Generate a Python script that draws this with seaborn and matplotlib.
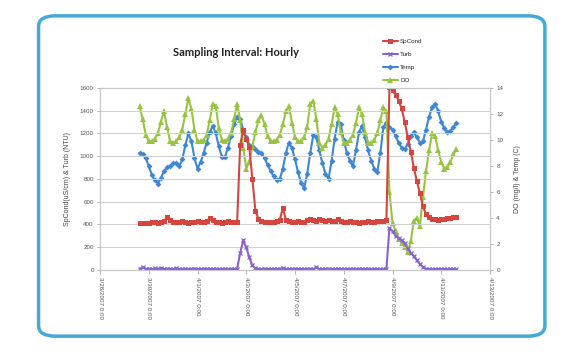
import matplotlib
matplotlib.use("Agg")
import matplotlib.pyplot as plt
from matplotlib.patches import FancyBboxPatch
import pandas as pd
import seaborn as sns
import numpy as np

start = '2007-03-29 15:00'

spcond = [410, 412, 415, 410, 418, 420, 415, 420, 430, 465, 440, 425, 420, 425, 430, 420,
          415, 420, 425, 430, 420, 425, 430, 455, 440, 425, 420, 415, 420, 430, 425, 420,
          425, 1100, 1230, 1150, 1080, 800, 520, 450,
          430, 425, 420, 425, 420, 430, 440, 545, 440, 430, 420, 425, 430, 420, 425, 440,
          445, 440, 430, 450, 440, 430, 440, 435, 430, 445, 430, 425, 420, 430, 425, 420,
          415, 420, 425, 430, 420, 425, 430, 435, 430, 440,
          1610, 1580, 1540, 1490, 1420, 1300, 1170, 1040, 900, 780, 675, 560, 490, 465, 450,
          445, 440, 445, 450, 455, 460, 465, 470]

turb = [8, 25, 10, 12, 6, 15, 9, 20, 7, 12, 10, 8, 14, 6, 9, 11,
        7, 10, 13, 8, 6, 12, 9, 10, 7, 11, 8, 9, 12, 6, 10, 9,
        12, 150, 260, 200, 110, 40, 15, 10,
        8, 12, 9, 7, 10, 11, 8, 20, 9, 7, 10, 12, 8, 9, 6, 11,
        10, 8, 22, 9, 7, 10, 12, 8, 9, 11, 7, 10, 8, 9, 12, 6,
        10, 9, 8, 11, 7, 10, 9, 8, 10, 12,
        370, 340, 300, 280, 260, 235, 190, 150, 120, 85, 50, 25, 10, 5, 5,
        5, 6, 5, 5, 6, 5, 5, 6]

temp = [9.0, 8.9, 8.6, 8.0, 7.3, 6.9, 6.65, 7.1, 7.6, 7.9, 8.0, 8.2, 8.2, 8.0, 8.5, 9.6,
        10.5, 9.9, 8.6, 7.8, 8.3, 9.0, 9.8, 10.6, 11.1, 10.5, 9.5, 8.7, 8.7, 9.4, 10.3, 11.2,
        11.8, 11.6, 10.8, 10.2, 9.6, 9.5, 9.3, 9.1, 9.0, 8.6, 8.1, 7.6, 7.2, 6.9, 7.0, 7.8,
        9.0, 9.8, 9.4, 8.5, 7.5, 6.7, 6.3, 7.4, 9.0, 10.4, 10.2, 9.2, 8.2, 7.4, 7.0, 8.4,
        10.1, 11.4, 11.2, 10.0, 9.0, 8.4, 8.0, 9.2, 10.6, 11.1, 10.2, 9.2, 8.4, 7.8, 7.5, 9.0,
        11.0, 11.3, 11.0, 10.8, 10.3, 9.8, 9.4, 9.3, 9.7, 10.3, 10.6, 10.2, 9.8, 9.9, 10.8, 11.8,
        12.5, 12.8, 12.2, 11.4, 10.9, 10.6, 10.7, 11.0, 11.3]

do = [12.6, 11.6, 10.4, 9.9, 9.9, 10.1, 10.5, 11.4, 12.2, 11.0, 9.9, 9.8, 9.9, 10.2, 10.8, 12.0,
      13.2, 12.4, 10.8, 9.9, 9.9, 10.0, 10.4, 11.5, 12.8, 12.6, 10.9, 10.0, 9.9, 10.1, 10.5, 11.6,
      12.8, 11.5, 9.4, 7.8, 8.3, 9.5, 10.6, 11.5, 11.9, 11.2, 10.3, 9.9, 9.9, 10.0, 10.4, 11.2,
      12.2, 12.6, 11.3, 10.2, 9.9, 9.9, 10.2, 11.0, 12.8, 13.0, 11.6, 9.8, 9.4, 9.6, 10.1, 11.2,
      12.5, 12.0, 10.6, 9.8, 9.8, 10.0, 10.4, 11.3, 12.5, 12.0, 10.6, 9.8, 9.8, 10.0, 10.5, 11.5,
      12.5, 12.2, 6.0, 3.6, 3.0, 2.4, 2.1, 1.8, 1.4, 2.2, 3.8, 4.0, 3.4, 5.6, 7.6, 9.2,
      10.5, 10.3, 9.2, 8.3, 7.8, 7.9, 8.3, 8.9, 9.3]

tick_dates = ['2007-03-28', '2007-03-30', '2007-04-01', '2007-04-03', '2007-04-05',
              '2007-04-07', '2007-04-09', '2007-04-11', '2007-04-13']
tick_labels = ['3/28/2007 0:00', '3/30/2007 0:00', '4/1/2007 0:00', '4/3/2007 0:00',
               '4/5/2007 0:00', '4/7/2007 0:00', '4/9/2007 0:00', '4/11/2007 0:00',
               '4/13/2007 0:00']

times = pd.date_range(start, periods=len(do), freq='3h')
df = pd.DataFrame({'time': times, 'SpCond': spcond, 'Turb': turb, 'Temp': temp, 'DO': do})

sns.set_style('white')
plt.rcParams['font.family'] = ['Liberation Sans', 'DejaVu Sans']

fig = plt.figure(figsize=(5.67, 3.52), dpi=100)
fig.patch.set_facecolor('white')

# rounded frame around the chart
frame = FancyBboxPatch((0.068, 0.045), 0.893, 0.91, boxstyle='round,pad=0,rounding_size=0.03',
                       transform=fig.transFigure, facecolor='white', edgecolor='#45a9d8',
                       linewidth=2.5, zorder=-5)
fig.patches.append(frame)

ax = fig.add_axes([0.1764, 0.233, 0.6878, 0.517])
ax2 = ax.twinx()

c_red = '#d6453d'
c_pur = '#8a62cf'
c_blu = '#3e87d4'
c_grn = '#98c442'

sns.lineplot(data=df, x='time', y='SpCond', ax=ax, color=c_red, marker='s', markersize=3.6,
             markeredgewidth=0, linewidth=1.5, label='SpCond', legend=False)
sns.lineplot(data=df, x='time', y='Turb', ax=ax, color=c_pur, marker='x', markersize=3.5,
             markeredgewidth=0.9, markeredgecolor=c_pur, linewidth=1.5, label='Turb',
             legend=False)
sns.lineplot(data=df, x='time', y='Temp', ax=ax2, color=c_blu, marker='D', markersize=3,
             markeredgewidth=0, linewidth=1.5, label='Temp', legend=False)
sns.lineplot(data=df, x='time', y='DO', ax=ax2, color=c_grn, marker='^', markersize=3.8,
             markeredgewidth=0, linewidth=1.5, label='DO', legend=False)
ax.set_zorder(ax2.get_zorder() + 1)
ax.patch.set_visible(False)
ax2.patch.set_visible(False)

ax.set_ylim(0, 1600)
ax.set_yticks(range(0, 1601, 200))
ax2.set_ylim(0, 14)
ax2.set_yticks(range(0, 15, 2))
ax.set_xlim(pd.Timestamp(tick_dates[0]), pd.Timestamp(tick_dates[-1]))
ax.set_xticks(pd.to_datetime(tick_dates))
ax.set_xticklabels(tick_labels, rotation=270, fontsize=4.3, color='#555555')

ax.grid(axis='y', color='#d0d0d0', linewidth=0.7)
ax.set_axisbelow(True)
for a in (ax, ax2):
    for s in a.spines.values():
        s.set_color('#c8c8c8')
        s.set_linewidth(0.8)
    a.tick_params(axis='both', labelsize=4.5, labelcolor='#555555', length=2.5,
                  color='#aaaaaa', width=0.6, pad=2)
ax.tick_params(axis='x', direction='out', bottom=True, length=3)
ax.tick_params(axis='y', left=True)
ax2.tick_params(axis='y', right=True)

ax.set_xlabel('')
ax.set_ylabel('SpCond(uS/cm) & Turb (NTU)', fontsize=5, color='#444444', labelpad=6)
ax2.set_ylabel('DO (mg/l) & Temp (C)', fontsize=5, color='#444444', labelpad=8)

fig.text(0.417, 0.85, 'Sampling Interval: Hourly', ha='center', va='center',
         fontsize=8, fontweight='bold', family=['Lato', 'DejaVu Sans'], color='#222222')

h1, l1 = ax.get_legend_handles_labels()
h2, l2 = ax2.get_legend_handles_labels()
fig.legend(h1 + h2, l1 + l2, loc='upper left', bbox_to_anchor=(0.665, 0.905),
           frameon=False, fontsize=4.5, handlelength=2.4, labelspacing=1.2,
           handletextpad=0.4, markerscale=1.0)

fig.savefig('out.png', dpi=100, facecolor='white')
